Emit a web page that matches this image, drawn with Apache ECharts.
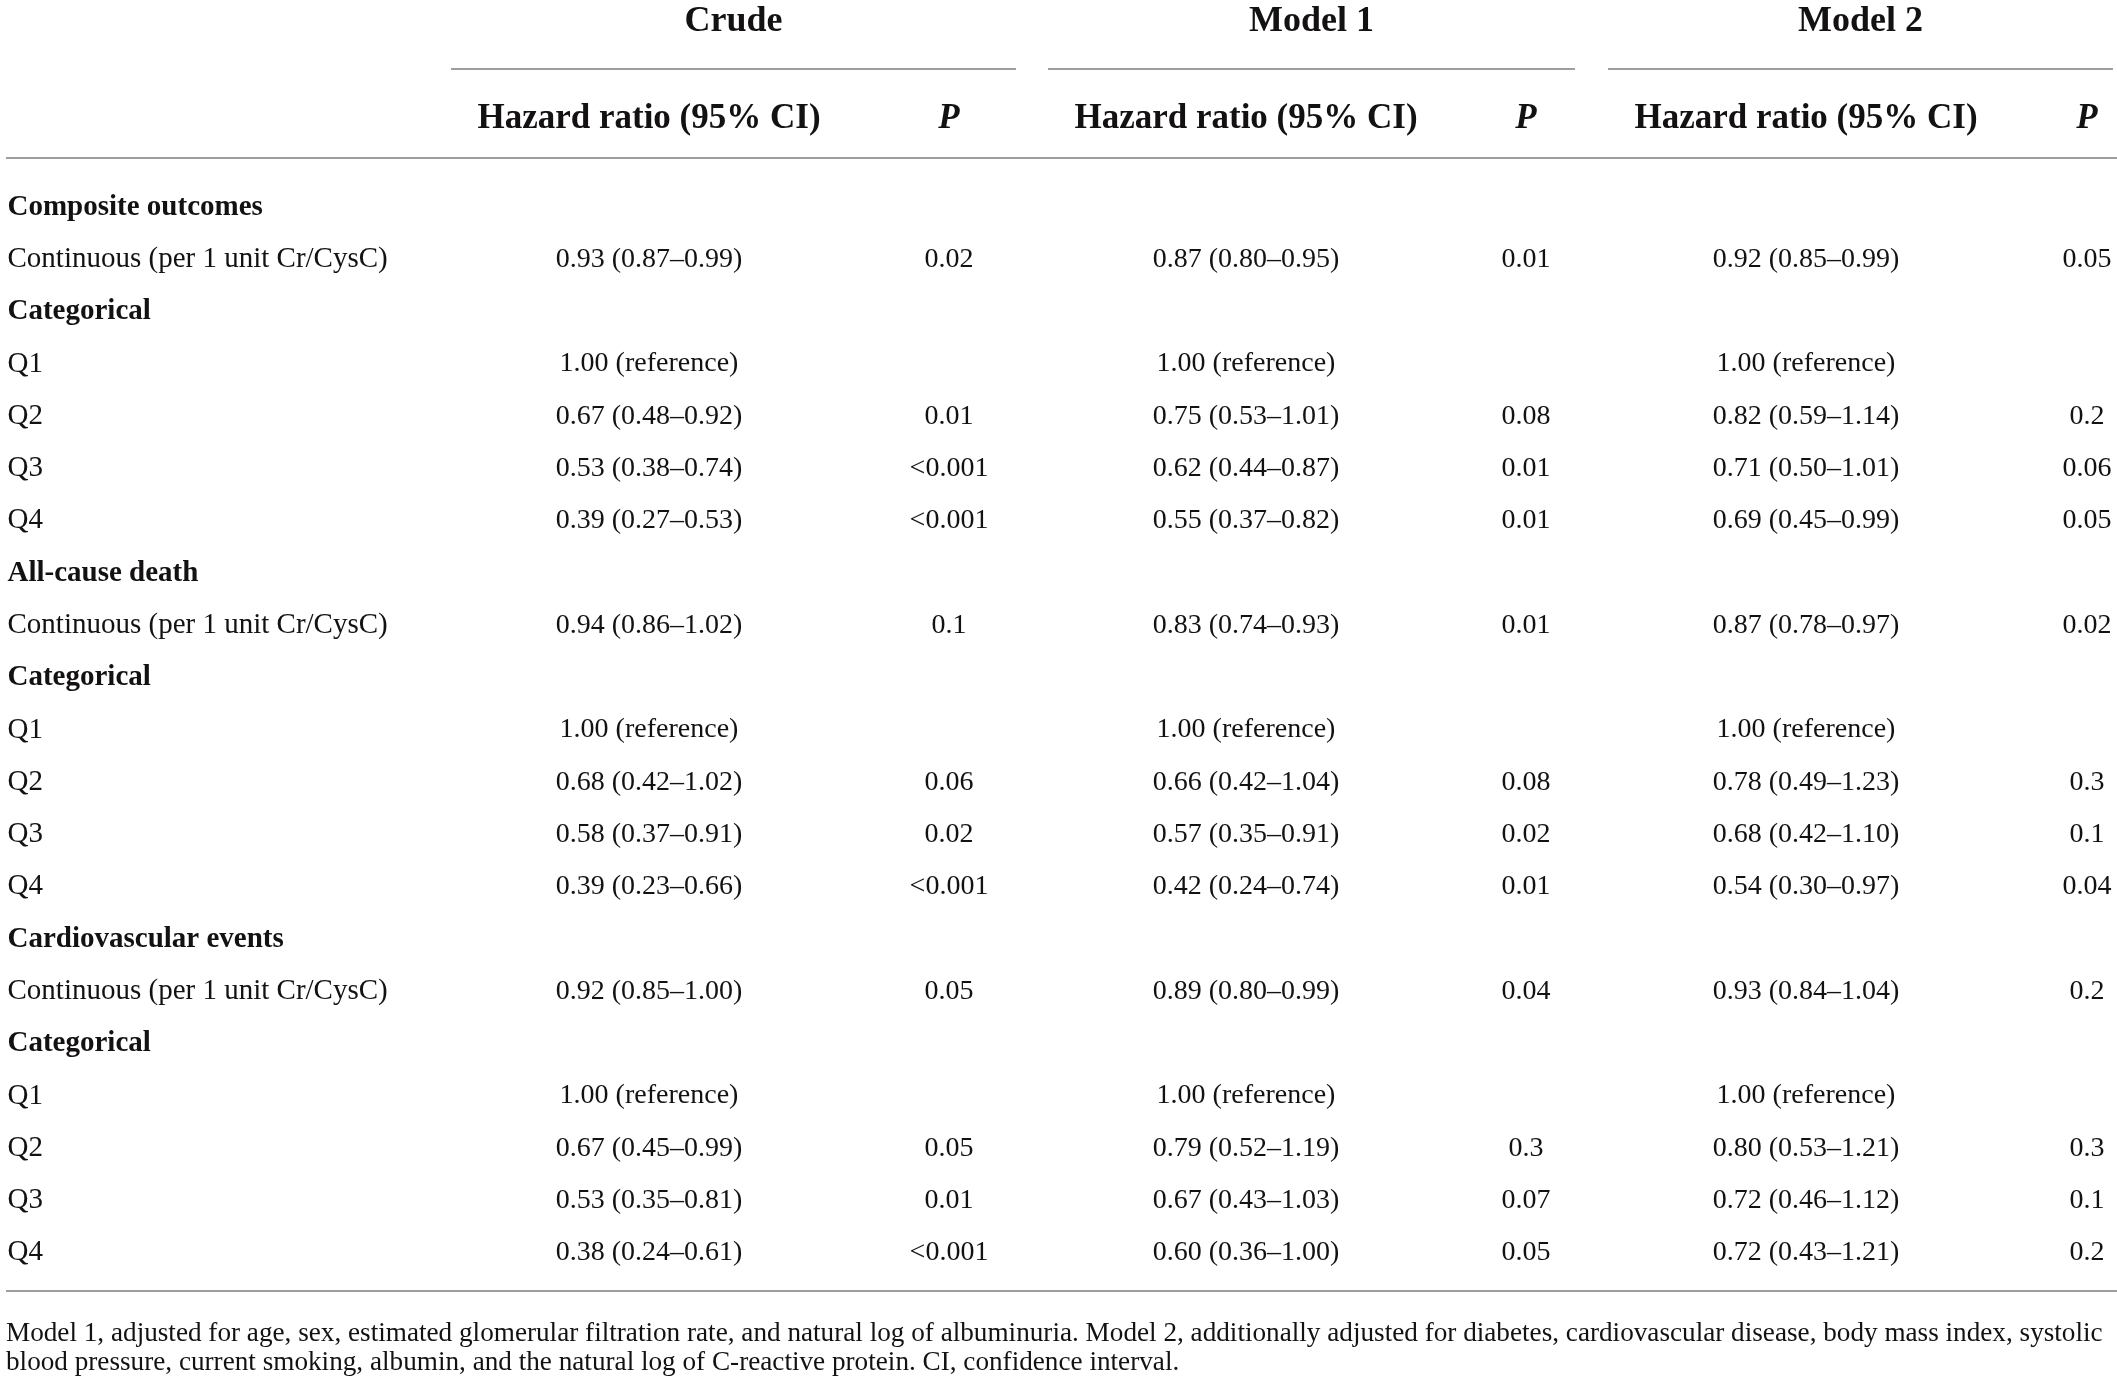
<!DOCTYPE html>
<html>
<head>
<meta charset="utf-8">
<script src="https://cdn.jsdelivr.net/npm/echarts@6/dist/echarts.min.js"></script>
<style>
  html, body { margin: 0; padding: 0; background: #fff; }
  #table-chart { width: 2117px; height: 1382px; }
</style>
</head>
<body>
<div id="table-chart"></div>
<script>
// table content
var groupTitles = ['Crude', 'Model 1', 'Model 2'];
var subHeaders = ['Hazard ratio (95% CI)', 'P', 'Hazard ratio (95% CI)', 'P', 'Hazard ratio (95% CI)', 'P'];

var rowLabels = [
  'Composite outcomes', 'Continuous (per 1 unit Cr/CysC)', 'Categorical', 'Q1', 'Q2', 'Q3', 'Q4',
  'All-cause death', 'Continuous (per 1 unit Cr/CysC)', 'Categorical', 'Q1', 'Q2', 'Q3', 'Q4',
  'Cardiovascular events', 'Continuous (per 1 unit Cr/CysC)', 'Categorical', 'Q1', 'Q2', 'Q3', 'Q4'
];
// rows printed in bold (section headings)
var boldRows = [0, 2, 7, 9, 14, 16];

var crudeHR = ['', '0.93 (0.87–0.99)', '', '1.00 (reference)', '0.67 (0.48–0.92)', '0.53 (0.38–0.74)', '0.39 (0.27–0.53)',
  '', '0.94 (0.86–1.02)', '', '1.00 (reference)', '0.68 (0.42–1.02)', '0.58 (0.37–0.91)', '0.39 (0.23–0.66)',
  '', '0.92 (0.85–1.00)', '', '1.00 (reference)', '0.67 (0.45–0.99)', '0.53 (0.35–0.81)', '0.38 (0.24–0.61)'];
var crudeP = ['', '0.02', '', '', '0.01', '<0.001', '<0.001',
  '', '0.1', '', '', '0.06', '0.02', '<0.001',
  '', '0.05', '', '', '0.05', '0.01', '<0.001'];
var model1HR = ['', '0.87 (0.80–0.95)', '', '1.00 (reference)', '0.75 (0.53–1.01)', '0.62 (0.44–0.87)', '0.55 (0.37–0.82)',
  '', '0.83 (0.74–0.93)', '', '1.00 (reference)', '0.66 (0.42–1.04)', '0.57 (0.35–0.91)', '0.42 (0.24–0.74)',
  '', '0.89 (0.80–0.99)', '', '1.00 (reference)', '0.79 (0.52–1.19)', '0.67 (0.43–1.03)', '0.60 (0.36–1.00)'];
var model1P = ['', '0.01', '', '', '0.08', '0.01', '0.01',
  '', '0.01', '', '', '0.08', '0.02', '0.01',
  '', '0.04', '', '', '0.3', '0.07', '0.05'];
var model2HR = ['', '0.92 (0.85–0.99)', '', '1.00 (reference)', '0.82 (0.59–1.14)', '0.71 (0.50–1.01)', '0.69 (0.45–0.99)',
  '', '0.87 (0.78–0.97)', '', '1.00 (reference)', '0.78 (0.49–1.23)', '0.68 (0.42–1.10)', '0.54 (0.30–0.97)',
  '', '0.93 (0.84–1.04)', '', '1.00 (reference)', '0.80 (0.53–1.21)', '0.72 (0.46–1.12)', '0.72 (0.43–1.21)'];
var model2P = ['', '0.05', '', '', '0.2', '0.06', '0.05',
  '', '0.02', '', '', '0.3', '0.1', '0.04',
  '', '0.2', '', '', '0.3', '0.1', '0.2'];

var footnoteLines = [
  'Model 1, adjusted for age, sex, estimated glomerular filtration rate, and natural log of albuminuria. Model 2, additionally adjusted for diabetes, cardiovascular disease, body mass index, systolic',
  'blood pressure, current smoking, albumin, and the natural log of C-reactive protein. CI, confidence interval.'
];

// layout
var FONT = '"Liberation Serif", "DejaVu Serif", serif';
var INK = '#141112';
var RULE = '#9e9e9e';
var bodyTop = 181, bodyHeight = 1098;
var colCenters = [649, 949, 1246, 1526, 1806, 2087];
var colWidths = [260, 60, 260, 60, 260, 50];
var groupSpans = [[451, 1016], [1048, 1575], [1608, 2113]];

var chart = echarts.init(document.getElementById('table-chart'), null, { renderer: 'canvas' });

var grids = [], xAxes = [], yAxes = [], series = [];

// first column: row labels, left aligned
grids.push({ left: 7, top: bodyTop, width: 10, height: bodyHeight });
xAxes.push({ gridIndex: 0, type: 'value', min: 0, max: 1, show: false });
yAxes.push({ gridIndex: 0, type: 'category', data: rowLabels, inverse: true, show: false });
series.push({
  type: 'scatter', xAxisIndex: 0, yAxisIndex: 0, symbolSize: 1, silent: true,
  itemStyle: { color: 'rgba(0,0,0,0)' },
  data: rowLabels.map(function (t, r) {
    return {
      value: [0, r, t],
      label: { fontWeight: boldRows.indexOf(r) >= 0 ? 'bold' : 'normal' }
    };
  }),
  label: {
    show: true, position: 'right', distance: 0,
    formatter: function (p) { return p.value[2]; },
    color: INK, opacity: 1, textBorderWidth: 0,
    fontFamily: FONT, fontSize: 29
  },
  labelLayout: { hideOverlap: false }
});

var columns = [crudeHR, crudeP, model1HR, model1P, model2HR, model2P];
columns.forEach(function (col, c) {
  var gi = c + 1;
  grids.push({ left: colCenters[c] - colWidths[c] / 2, top: bodyTop, width: colWidths[c], height: bodyHeight });
  xAxes.push({
    gridIndex: gi, type: 'category', position: 'top',
    data: [{ value: subHeaders[c], textStyle: { fontStyle: subHeaders[c] === 'P' ? 'italic' : 'normal' } }],
    axisLine: { show: false }, axisTick: { show: false }, splitLine: { show: false },
    axisLabel: {
      show: true, margin: 45, interval: 0,
      color: INK, fontFamily: FONT, fontSize: 35, fontWeight: 'bold'
    }
  });
  yAxes.push({ gridIndex: gi, type: 'category', data: rowLabels, inverse: true, show: false });
  var pts = [];
  col.forEach(function (v, r) { if (v !== '') pts.push([0, r, v]); });
  series.push({
    type: 'scatter', xAxisIndex: gi, yAxisIndex: gi, symbolSize: 1, silent: true,
    itemStyle: { color: 'rgba(0,0,0,0)' },
    data: pts,
    label: {
      show: true, position: 'inside',
      formatter: function (p) { return p.value[2]; },
      color: INK, opacity: 1, textBorderWidth: 0,
      fontFamily: FONT, fontSize: 28
    },
    labelLayout: { hideOverlap: false }
  });
});

// rules, group titles and footnote
var graphics = [];
groupTitles.forEach(function (t, g) {
  var span = groupSpans[g];
  graphics.push({
    type: 'text', x: (span[0] + span[1]) / 2, y: 22,
    style: { text: t, fill: INK, font: 'bold 36px ' + FONT, textAlign: 'center', textVerticalAlign: 'middle' }
  });
  graphics.push({
    type: 'line', shape: { x1: span[0], y1: 69, x2: span[1], y2: 69 },
    style: { stroke: RULE, lineWidth: 2 }
  });
});
graphics.push({ type: 'line', shape: { x1: 6, y1: 158, x2: 2117, y2: 158 }, style: { stroke: RULE, lineWidth: 2 } });
graphics.push({ type: 'line', shape: { x1: 6, y1: 1291, x2: 2117, y2: 1291 }, style: { stroke: RULE, lineWidth: 2 } });
footnoteLines.forEach(function (t, i) {
  graphics.push({
    type: 'text', x: 6, y: 1334 + i * 29,
    style: { text: t, fill: INK, font: '27.2px ' + FONT, textAlign: 'left', textVerticalAlign: 'middle' }
  });
});

var option = {
  backgroundColor: '#ffffff',
  animation: false,
  grid: grids,
  xAxis: xAxes,
  yAxis: yAxes,
  series: series,
  graphic: graphics
};
chart.setOption(option);
</script>
</body>
</html>
